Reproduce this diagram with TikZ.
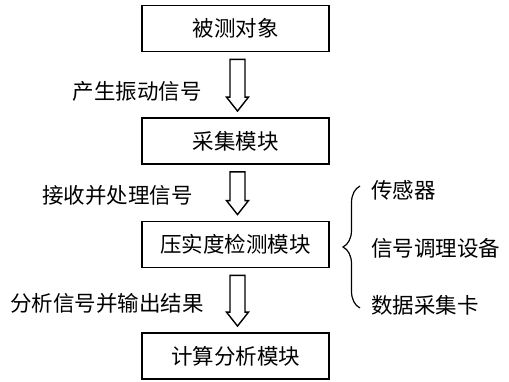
\documentclass[tikz,border=0pt]{standalone}
\usepackage{fontspec}
\setmainfont{Noto Sans CJK SC}
\usetikzlibrary{decorations.pathreplacing,calc}
\begin{document}
\begin{tikzpicture}[x=1pt,y=-1pt,
  box/.style={draw,line width=1.8pt,minimum width=187pt,minimum height=46pt,inner sep=0pt,font=\fontsize{21.5}{24}\selectfont},
  lbl/.style={inner sep=0pt,font=\fontsize{21.5}{24}\selectfont},
  blockarrow/.style={draw,line width=1.4pt,fill=white},
  bracestyle/.style={draw,line width=1.2pt,decorate,decoration={brace,amplitude=17pt}}]
\useasboundingbox (0,0) rectangle (509,381);
\node[box] (b1) at (235.5,28.5) {被测对象};
\node[box] (b2) at (235.5,141) {采集模块};
\node[box] (b3) at (235.5,244.5) {压实度检测模块};
\node[box] (b4) at (235.5,356) {计算分析模块};
\newcommand{\blockarr}[2]{%
  \draw[blockarrow] ($(#1.south)+(-5.5,7)$) -- ($(#2.north)+(-5.5,-20)$) -- ($(#2.north)+(-9,-20)$) -- ($(#2.north)+(2,-6)$) -- ($(#2.north)+(13,-20)$) -- ($(#2.north)+(9.5,-20)$) -- ($(#1.south)+(9.5,7)$) -- cycle;}
\blockarr{b1}{b2}
\blockarr{b2}{b3}
\blockarr{b3}{b4}
\node[lbl,anchor=east] (l1) at (202,91) {产生振动信号};
\node[lbl,anchor=east] (l2) at (193,195) {接收并处理信号};
\node[lbl,anchor=east] (l3) at (204,303) {分析信号并输出结果};
\coordinate (bt) at (360,186);
\coordinate (bb) at (360,308);
\draw[bracestyle] (bb) -- (bt);
\node[lbl,anchor=west] (r1) at (371,190) {传感器};
\node[lbl,anchor=west] (r2) at (371,248) {信号调理设备};
\node[lbl,anchor=west] (r3) at (371,305) {数据采集卡};
\end{tikzpicture}
\end{document}
